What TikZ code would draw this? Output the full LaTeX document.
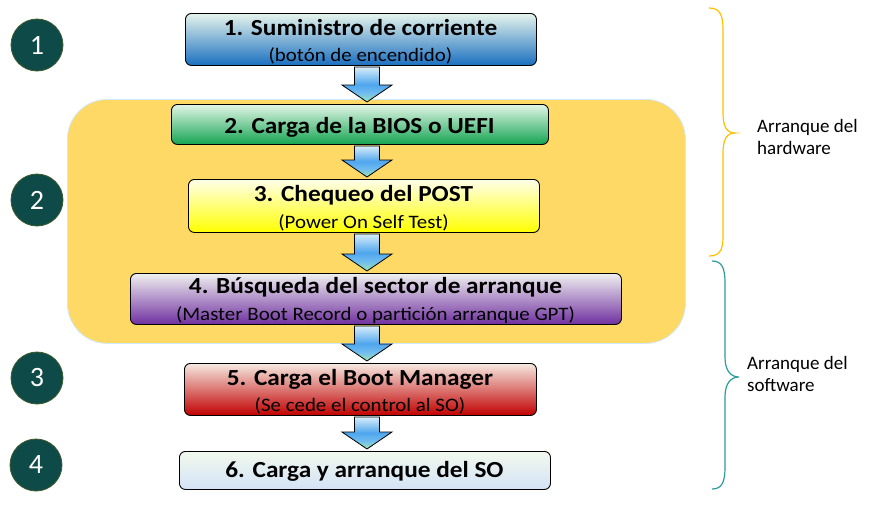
\documentclass[tikz,border=0pt]{standalone}
\usepackage{fontspec}
\setmainfont{Carlito}
\newfontfamily\boxfont[FakeStretch=1.1]{Carlito}
\usetikzlibrary{calc}
\definecolor{circfill}{HTML}{0E4A47}
\definecolor{circline}{HTML}{3E5A2C}
\definecolor{groupfill}{HTML}{FFD966}
\definecolor{groupline}{HTML}{CFE9F6}
\definecolor{hwbrace}{HTML}{FFC000}
\definecolor{swbrace}{HTML}{2E9C9A}
\definecolor{arrtop}{HTML}{D9EEFA}
\definecolor{arrmid}{HTML}{4FA6EE}
\definecolor{arrlow}{HTML}{6FBCEF}
\definecolor{arrbot}{HTML}{9EE6B0}
\pgfdeclareverticalshading{arrowgrad}{100bp}{color(0bp)=(arrbot); color(25bp)=(arrbot); color(38bp)=(arrlow); color(50bp)=(arrmid); color(75bp)=(arrtop); color(100bp)=(arrtop)}
\definecolor{aTop}{HTML}{E6F4EC}\definecolor{aMid}{HTML}{8EC1E4}\definecolor{aBot}{HTML}{1A6FC0}
\definecolor{bTop}{HTML}{E2F5E6}\definecolor{bMid}{HTML}{8ED6A8}\definecolor{bBot}{HTML}{14A452}
\definecolor{cTop}{HTML}{FFFFEA}\definecolor{cMid}{HTML}{FFFF9A}\definecolor{cBot}{HTML}{FFFF00}
\definecolor{dTop}{HTML}{F0F0F0}\definecolor{dMid}{HTML}{C3AED3}\definecolor{dBot}{HTML}{7030A0}
\definecolor{eTop}{HTML}{F6E9E1}\definecolor{eMid}{HTML}{E49A92}\definecolor{eBot}{HTML}{C00000}
\definecolor{fTop}{HTML}{F2F9EE}\definecolor{fMid}{HTML}{E2EDF2}\definecolor{fBot}{HTML}{D3E2F6}
\tikzset{
  stepbox/.style={draw=black, line width=0.9pt, rounded corners=6pt, inner sep=0pt, anchor=north west},
  ttl/.style={font=\boxfont\bfseries\fontsize{23}{27}\selectfont, anchor=base, inner sep=0pt},
  sub/.style={font=\boxfont\fontsize{19}{23}\selectfont, anchor=base, inner sep=0pt},
  numcirc/.style={circle, fill=circfill, draw=circline, line width=0.8pt, minimum size=52pt, inner sep=0pt, text=white, font=\fontsize{28}{32}\selectfont},
  lbl/.style={font=\fontsize{19}{23}\selectfont, anchor=base west, inner sep=0pt},
  arrowshade/.style={draw=black, line width=0.8pt, shading=arrowgrad},
  bracehw/.style={draw=hwbrace, line width=1.2pt},
  bracesw/.style={draw=swbrace, line width=1.2pt}
}
\newcommand\blockarrow[2]{%
  \shadedraw[arrowshade]
    ($(#1.south -| ax)+(-12.5,1)$) -- ($(#1.south -| ax)+(12.5,1)$) --
    ($(#2.north -| ax)+(12.5,-19)$) -- ($(#2.north -| ax)+(25,-19)$) --
    ($(#2.north -| ax)+(0,-2)$) -- ($(#2.north -| ax)+(-25,-19)$) --
    ($(#2.north -| ax)+(-12.5,-19)$) -- cycle;}
\begin{document}
\begin{tikzpicture}[x=1pt,y=-1pt]
\useasboundingbox (0,0) rectangle (878,515);
\fill[white] (0,0) rectangle (878,515);
\coordinate (ax) at (367,0);

% group background
\node[draw=groupline, fill=groupfill, line width=0.8pt, rounded corners=40pt,
      minimum width=618pt, minimum height=244pt, inner sep=0pt, anchor=north west] (grp) at (67,99) {};

% boxes
\node[stepbox, minimum width=351pt, minimum height=52pt, top color=aTop, middle color=aMid, bottom color=aBot] (b1) at (185,13) {};
\node[stepbox, minimum width=377pt, minimum height=40pt, top color=bTop, middle color=bMid, bottom color=bBot] (b2) at (171,104) {};
\node[stepbox, minimum width=351pt, minimum height=53pt, top color=cTop, middle color=cMid, bottom color=cBot] (b3) at (188,179) {};
\node[stepbox, minimum width=491pt, minimum height=51pt, top color=dTop, middle color=dMid, bottom color=dBot] (b4) at (130,273) {};
\node[stepbox, minimum width=352pt, minimum height=52pt, top color=eTop, middle color=eMid, bottom color=eBot] (b5) at (184,363) {};
\node[stepbox, minimum width=371pt, minimum height=38pt, top color=fTop, middle color=fMid, bottom color=fBot] (b6) at (179,451) {};

% texts
\node[ttl] (t1) at (360.5,35) {1. Suministro de corriente};
\node[sub] (s1) at (360.5,61) {(botón de encendido)};
\node[ttl] (t2) at (359.5,133) {2. Carga de la BIOS o UEFI};
\node[ttl] (t3) at (363.5,201) {3. Chequeo del POST};
\node[sub] (s3) at (363.5,228) {(Power On Self Test)};
\node[ttl] (t4) at (375.5,293) {4. Búsqueda del sector de arranque};
\node[sub] (s4) at (375.5,320) {(Master Boot Record o partición arranque GPT)};
\node[ttl] (t5) at (360,385) {5. Carga el Boot Manager};
\node[sub] (s5) at (360,411) {(Se cede el control al SO)};
\node[ttl] (t6) at (364.5,477) {6. Carga y arranque del SO};

% arrows
\blockarrow{b1}{b2}
\blockarrow{b2}{b3}
\blockarrow{b3}{b4}
\blockarrow{b4}{b5}
\blockarrow{b5}{b6}

% number circles
\node[numcirc] (n1) at (37,45) {1};
\node[numcirc] (n2) at (37,200) {2};
\node[numcirc] (n3) at (37,378) {3};
\node[numcirc] (n4) at (36,465) {4};

% braces
\draw[bracehw] (709,8) .. controls (720,8) and (723,15) .. (723,30) -- (723,113)
  .. controls (723,127) and (727,133) .. (735,133)
  .. controls (727,133) and (723,139) .. (723,153) -- (723,236)
  .. controls (723,250) and (720,256) .. (709,256);
\draw[bracesw] (712,261) .. controls (722,261) and (725,268) .. (725,283) -- (725,357)
  .. controls (725,371) and (731,377) .. (739,377)
  .. controls (731,377) and (725,383) .. (725,397) -- (725,467)
  .. controls (725,482) and (722,489) .. (712,489);

% labels
\node[lbl] (hw1) at (757,132) {Arranque del};
\node[lbl] (hw2) at (757,154) {hardware};
\node[lbl] (sw1) at (747,369) {Arranque del};
\node[lbl] (sw2) at (747,391) {software};
\end{tikzpicture}
\end{document}
